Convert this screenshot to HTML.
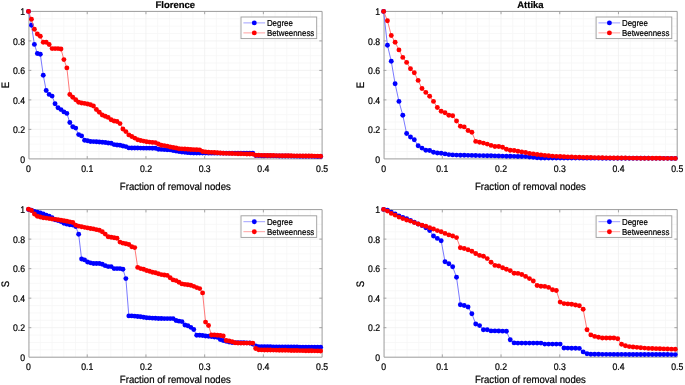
<!DOCTYPE html>
<html><head><meta charset="utf-8"><title>Florence / Attika</title>
<style>
html,body{margin:0;padding:0;background:#fff;}
body{width:685px;height:385px;overflow:hidden;}
svg{display:block;font-family:"Liberation Sans", sans-serif;}
text{text-rendering:geometricPrecision;filter:grayscale(1);fill:#000;stroke:#000;stroke-width:0.2px;}
</style></head>
<body>
<svg width="685" height="385" viewBox="0 0 685 385">
<rect width="685" height="385" fill="#fff"/>
<line x1="40.24" y1="11.4" x2="40.24" y2="158.9" stroke="#f6f6f6" stroke-width="0.8"/>
<line x1="51.99" y1="11.4" x2="51.99" y2="158.9" stroke="#f6f6f6" stroke-width="0.8"/>
<line x1="63.73" y1="11.4" x2="63.73" y2="158.9" stroke="#f6f6f6" stroke-width="0.8"/>
<line x1="75.48" y1="11.4" x2="75.48" y2="158.9" stroke="#f6f6f6" stroke-width="0.8"/>
<line x1="98.96" y1="11.4" x2="98.96" y2="158.9" stroke="#f6f6f6" stroke-width="0.8"/>
<line x1="110.71" y1="11.4" x2="110.71" y2="158.9" stroke="#f6f6f6" stroke-width="0.8"/>
<line x1="122.45" y1="11.4" x2="122.45" y2="158.9" stroke="#f6f6f6" stroke-width="0.8"/>
<line x1="134.2" y1="11.4" x2="134.2" y2="158.9" stroke="#f6f6f6" stroke-width="0.8"/>
<line x1="157.68" y1="11.4" x2="157.68" y2="158.9" stroke="#f6f6f6" stroke-width="0.8"/>
<line x1="169.43" y1="11.4" x2="169.43" y2="158.9" stroke="#f6f6f6" stroke-width="0.8"/>
<line x1="181.17" y1="11.4" x2="181.17" y2="158.9" stroke="#f6f6f6" stroke-width="0.8"/>
<line x1="192.92" y1="11.4" x2="192.92" y2="158.9" stroke="#f6f6f6" stroke-width="0.8"/>
<line x1="216.4" y1="11.4" x2="216.4" y2="158.9" stroke="#f6f6f6" stroke-width="0.8"/>
<line x1="228.15" y1="11.4" x2="228.15" y2="158.9" stroke="#f6f6f6" stroke-width="0.8"/>
<line x1="239.89" y1="11.4" x2="239.89" y2="158.9" stroke="#f6f6f6" stroke-width="0.8"/>
<line x1="251.64" y1="11.4" x2="251.64" y2="158.9" stroke="#f6f6f6" stroke-width="0.8"/>
<line x1="275.12" y1="11.4" x2="275.12" y2="158.9" stroke="#f6f6f6" stroke-width="0.8"/>
<line x1="286.87" y1="11.4" x2="286.87" y2="158.9" stroke="#f6f6f6" stroke-width="0.8"/>
<line x1="298.61" y1="11.4" x2="298.61" y2="158.9" stroke="#f6f6f6" stroke-width="0.8"/>
<line x1="310.36" y1="11.4" x2="310.36" y2="158.9" stroke="#f6f6f6" stroke-width="0.8"/>
<line x1="28.5" y1="151.53" x2="322.1" y2="151.53" stroke="#f6f6f6" stroke-width="0.8"/>
<line x1="28.5" y1="144.15" x2="322.1" y2="144.15" stroke="#f6f6f6" stroke-width="0.8"/>
<line x1="28.5" y1="136.78" x2="322.1" y2="136.78" stroke="#f6f6f6" stroke-width="0.8"/>
<line x1="28.5" y1="122.03" x2="322.1" y2="122.03" stroke="#f6f6f6" stroke-width="0.8"/>
<line x1="28.5" y1="114.65" x2="322.1" y2="114.65" stroke="#f6f6f6" stroke-width="0.8"/>
<line x1="28.5" y1="107.28" x2="322.1" y2="107.28" stroke="#f6f6f6" stroke-width="0.8"/>
<line x1="28.5" y1="92.53" x2="322.1" y2="92.53" stroke="#f6f6f6" stroke-width="0.8"/>
<line x1="28.5" y1="85.15" x2="322.1" y2="85.15" stroke="#f6f6f6" stroke-width="0.8"/>
<line x1="28.5" y1="77.78" x2="322.1" y2="77.78" stroke="#f6f6f6" stroke-width="0.8"/>
<line x1="28.5" y1="63.03" x2="322.1" y2="63.03" stroke="#f6f6f6" stroke-width="0.8"/>
<line x1="28.5" y1="55.65" x2="322.1" y2="55.65" stroke="#f6f6f6" stroke-width="0.8"/>
<line x1="28.5" y1="48.28" x2="322.1" y2="48.28" stroke="#f6f6f6" stroke-width="0.8"/>
<line x1="28.5" y1="33.52" x2="322.1" y2="33.52" stroke="#f6f6f6" stroke-width="0.8"/>
<line x1="28.5" y1="26.15" x2="322.1" y2="26.15" stroke="#f6f6f6" stroke-width="0.8"/>
<line x1="28.5" y1="18.78" x2="322.1" y2="18.78" stroke="#f6f6f6" stroke-width="0.8"/>
<line x1="87.22" y1="11.4" x2="87.22" y2="158.9" stroke="#f0f0f0" stroke-width="0.8"/>
<line x1="145.94" y1="11.4" x2="145.94" y2="158.9" stroke="#f0f0f0" stroke-width="0.8"/>
<line x1="204.66" y1="11.4" x2="204.66" y2="158.9" stroke="#f0f0f0" stroke-width="0.8"/>
<line x1="263.38" y1="11.4" x2="263.38" y2="158.9" stroke="#f0f0f0" stroke-width="0.8"/>
<line x1="28.5" y1="129.4" x2="322.1" y2="129.4" stroke="#f0f0f0" stroke-width="0.8"/>
<line x1="28.5" y1="99.9" x2="322.1" y2="99.9" stroke="#f0f0f0" stroke-width="0.8"/>
<line x1="28.5" y1="70.4" x2="322.1" y2="70.4" stroke="#f0f0f0" stroke-width="0.8"/>
<line x1="28.5" y1="40.9" x2="322.1" y2="40.9" stroke="#f0f0f0" stroke-width="0.8"/>
<path d="M28.95,11.4 H322.1 V158.9 H28.95 Z" fill="none" stroke="#9c9c9c" stroke-width="1"/>
<line x1="87.22" y1="11.4" x2="87.22" y2="14.2" stroke="#9c9c9c" stroke-width="0.9"/>
<line x1="87.22" y1="158.9" x2="87.22" y2="156.1" stroke="#9c9c9c" stroke-width="0.9"/>
<line x1="145.94" y1="11.4" x2="145.94" y2="14.2" stroke="#9c9c9c" stroke-width="0.9"/>
<line x1="145.94" y1="158.9" x2="145.94" y2="156.1" stroke="#9c9c9c" stroke-width="0.9"/>
<line x1="204.66" y1="11.4" x2="204.66" y2="14.2" stroke="#9c9c9c" stroke-width="0.9"/>
<line x1="204.66" y1="158.9" x2="204.66" y2="156.1" stroke="#9c9c9c" stroke-width="0.9"/>
<line x1="263.38" y1="11.4" x2="263.38" y2="14.2" stroke="#9c9c9c" stroke-width="0.9"/>
<line x1="263.38" y1="158.9" x2="263.38" y2="156.1" stroke="#9c9c9c" stroke-width="0.9"/>
<line x1="28.5" y1="129.4" x2="31.3" y2="129.4" stroke="#9c9c9c" stroke-width="0.9"/>
<line x1="322.1" y1="129.4" x2="319.3" y2="129.4" stroke="#9c9c9c" stroke-width="0.9"/>
<line x1="28.5" y1="99.9" x2="31.3" y2="99.9" stroke="#9c9c9c" stroke-width="0.9"/>
<line x1="322.1" y1="99.9" x2="319.3" y2="99.9" stroke="#9c9c9c" stroke-width="0.9"/>
<line x1="28.5" y1="70.4" x2="31.3" y2="70.4" stroke="#9c9c9c" stroke-width="0.9"/>
<line x1="322.1" y1="70.4" x2="319.3" y2="70.4" stroke="#9c9c9c" stroke-width="0.9"/>
<line x1="28.5" y1="40.9" x2="31.3" y2="40.9" stroke="#9c9c9c" stroke-width="0.9"/>
<line x1="322.1" y1="40.9" x2="319.3" y2="40.9" stroke="#9c9c9c" stroke-width="0.9"/>
<path d="M28.5,11.4 L31.45,25.3 L34.4,44.4 L37.35,53.5 L40.3,54.2 L43.25,75.2 L46.2,90.5 L49.16,94.4 L52.11,96.1 L55.06,103.8 L58.01,107.8 L60.96,109.6 L63.91,111.9 L66.86,113.4 L69.81,122.5 L72.76,126.8 L75.71,128.1 L78.66,134.6 L81.61,135.9 L84.56,140.2 L87.52,140.7 L90.47,141.5 L93.42,141.61 L96.37,141.74 L99.32,141.96 L102.27,142.24 L105.22,142.57 L108.17,142.99 L111.12,143.3 L114.07,144.6 L117.02,145.03 L119.97,145.3 L122.92,145.98 L125.87,146.6 L128.83,147.9 L131.78,147.96 L134.73,148.02 L137.68,148.07 L140.63,148.11 L143.58,148.13 L146.53,148.14 L149.48,148.16 L152.43,148.18 L155.38,148.2 L158.33,149.3 L161.28,149.42 L164.23,149.59 L167.19,149.75 L170.14,149.9 L173.09,150.47 L176.04,151 L178.99,151.49 L181.94,151.97 L184.89,152.3 L187.84,152.64 L190.79,152.9 L193.74,153.1 L196.69,153.11 L199.64,153.11 L202.59,153.12 L205.55,153.12 L208.5,153.13 L211.45,153.13 L214.4,153.14 L217.35,153.14 L220.3,153.15 L223.25,153.15 L226.2,153.16 L229.15,153.16 L232.1,153.17 L235.05,153.17 L238,153.18 L240.95,153.18 L243.91,153.19 L246.86,153.19 L249.81,153.2 L252.76,153.2 L255.71,155.62 L258.66,155.66 L261.61,155.69 L264.56,155.73 L267.51,155.77 L270.46,155.81 L273.41,155.85 L276.36,155.89 L279.31,155.93 L282.26,155.97 L285.22,156.01 L288.17,156.05 L291.12,156.09 L294.07,156.13 L297.02,156.17 L299.97,156.21 L302.92,156.25 L305.87,156.28 L308.82,156.32 L311.77,156.36 L314.72,156.4 L317.67,156.44 L320.62,156.48" fill="none" stroke="#6a6aff" stroke-width="0.9"/>
<g fill="#0000ff"><circle cx="28.5" cy="11.4" r="2.45"/><circle cx="31.45" cy="25.3" r="2.45"/><circle cx="34.4" cy="44.4" r="2.45"/><circle cx="37.35" cy="53.5" r="2.45"/><circle cx="40.3" cy="54.2" r="2.45"/><circle cx="43.25" cy="75.2" r="2.45"/><circle cx="46.2" cy="90.5" r="2.45"/><circle cx="49.16" cy="94.4" r="2.45"/><circle cx="52.11" cy="96.1" r="2.45"/><circle cx="55.06" cy="103.8" r="2.45"/><circle cx="58.01" cy="107.8" r="2.45"/><circle cx="60.96" cy="109.6" r="2.45"/><circle cx="63.91" cy="111.9" r="2.45"/><circle cx="66.86" cy="113.4" r="2.45"/><circle cx="69.81" cy="122.5" r="2.45"/><circle cx="72.76" cy="126.8" r="2.45"/><circle cx="75.71" cy="128.1" r="2.45"/><circle cx="78.66" cy="134.6" r="2.45"/><circle cx="81.61" cy="135.9" r="2.45"/><circle cx="84.56" cy="140.2" r="2.45"/><circle cx="87.52" cy="140.7" r="2.45"/><circle cx="90.47" cy="141.5" r="2.45"/><circle cx="93.42" cy="141.61" r="2.45"/><circle cx="96.37" cy="141.74" r="2.45"/><circle cx="99.32" cy="141.96" r="2.45"/><circle cx="102.27" cy="142.24" r="2.45"/><circle cx="105.22" cy="142.57" r="2.45"/><circle cx="108.17" cy="142.99" r="2.45"/><circle cx="111.12" cy="143.3" r="2.45"/><circle cx="114.07" cy="144.6" r="2.45"/><circle cx="117.02" cy="145.03" r="2.45"/><circle cx="119.97" cy="145.3" r="2.45"/><circle cx="122.92" cy="145.98" r="2.45"/><circle cx="125.87" cy="146.6" r="2.45"/><circle cx="128.83" cy="147.9" r="2.45"/><circle cx="131.78" cy="147.96" r="2.45"/><circle cx="134.73" cy="148.02" r="2.45"/><circle cx="137.68" cy="148.07" r="2.45"/><circle cx="140.63" cy="148.11" r="2.45"/><circle cx="143.58" cy="148.13" r="2.45"/><circle cx="146.53" cy="148.14" r="2.45"/><circle cx="149.48" cy="148.16" r="2.45"/><circle cx="152.43" cy="148.18" r="2.45"/><circle cx="155.38" cy="148.2" r="2.45"/><circle cx="158.33" cy="149.3" r="2.45"/><circle cx="161.28" cy="149.42" r="2.45"/><circle cx="164.23" cy="149.59" r="2.45"/><circle cx="167.19" cy="149.75" r="2.45"/><circle cx="170.14" cy="149.9" r="2.45"/><circle cx="173.09" cy="150.47" r="2.45"/><circle cx="176.04" cy="151" r="2.45"/><circle cx="178.99" cy="151.49" r="2.45"/><circle cx="181.94" cy="151.97" r="2.45"/><circle cx="184.89" cy="152.3" r="2.45"/><circle cx="187.84" cy="152.64" r="2.45"/><circle cx="190.79" cy="152.9" r="2.45"/><circle cx="193.74" cy="153.1" r="2.45"/><circle cx="196.69" cy="153.11" r="2.45"/><circle cx="199.64" cy="153.11" r="2.45"/><circle cx="202.59" cy="153.12" r="2.45"/><circle cx="205.55" cy="153.12" r="2.45"/><circle cx="208.5" cy="153.13" r="2.45"/><circle cx="211.45" cy="153.13" r="2.45"/><circle cx="214.4" cy="153.14" r="2.45"/><circle cx="217.35" cy="153.14" r="2.45"/><circle cx="220.3" cy="153.15" r="2.45"/><circle cx="223.25" cy="153.15" r="2.45"/><circle cx="226.2" cy="153.16" r="2.45"/><circle cx="229.15" cy="153.16" r="2.45"/><circle cx="232.1" cy="153.17" r="2.45"/><circle cx="235.05" cy="153.17" r="2.45"/><circle cx="238" cy="153.18" r="2.45"/><circle cx="240.95" cy="153.18" r="2.45"/><circle cx="243.91" cy="153.19" r="2.45"/><circle cx="246.86" cy="153.19" r="2.45"/><circle cx="249.81" cy="153.2" r="2.45"/><circle cx="252.76" cy="153.2" r="2.45"/><circle cx="255.71" cy="155.62" r="2.45"/><circle cx="258.66" cy="155.66" r="2.45"/><circle cx="261.61" cy="155.69" r="2.45"/><circle cx="264.56" cy="155.73" r="2.45"/><circle cx="267.51" cy="155.77" r="2.45"/><circle cx="270.46" cy="155.81" r="2.45"/><circle cx="273.41" cy="155.85" r="2.45"/><circle cx="276.36" cy="155.89" r="2.45"/><circle cx="279.31" cy="155.93" r="2.45"/><circle cx="282.26" cy="155.97" r="2.45"/><circle cx="285.22" cy="156.01" r="2.45"/><circle cx="288.17" cy="156.05" r="2.45"/><circle cx="291.12" cy="156.09" r="2.45"/><circle cx="294.07" cy="156.13" r="2.45"/><circle cx="297.02" cy="156.17" r="2.45"/><circle cx="299.97" cy="156.21" r="2.45"/><circle cx="302.92" cy="156.25" r="2.45"/><circle cx="305.87" cy="156.28" r="2.45"/><circle cx="308.82" cy="156.32" r="2.45"/><circle cx="311.77" cy="156.36" r="2.45"/><circle cx="314.72" cy="156.4" r="2.45"/><circle cx="317.67" cy="156.44" r="2.45"/><circle cx="320.62" cy="156.48" r="2.45"/></g>
<path d="M28.5,11.4 L31.45,19.2 L34.4,29.3 L37.35,34 L40.3,36.3 L43.25,42.3 L46.2,42.3 L49.16,44.5 L52.11,48.6 L55.06,48.6 L58.01,48.6 L60.96,49 L63.91,59.6 L66.86,67.9 L69.81,94.5 L72.76,97.3 L75.71,99.8 L78.66,102.3 L81.61,103 L84.56,103.4 L87.52,104 L90.47,104.7 L93.42,106 L96.37,109.5 L99.32,112.3 L102.27,115 L105.22,116.3 L108.17,117.4 L111.12,119.7 L114.07,120.94 L117.02,121.5 L119.97,123.6 L122.92,129 L125.87,131.6 L128.83,134.9 L131.78,136.44 L134.73,138.1 L137.68,139.8 L140.63,140.53 L143.58,141.1 L146.53,141.74 L149.48,142.11 L152.43,142.4 L155.38,142.6 L158.33,144 L161.28,145.2 L164.23,145.59 L167.19,146.16 L170.14,147 L173.09,147.52 L176.04,148.03 L178.99,148.7 L181.94,148.84 L184.89,149.05 L187.84,149.26 L190.79,149.48 L193.74,149.66 L196.69,149.81 L199.64,149.9 L202.59,151.5 L205.55,151.86 L208.5,152.2 L211.45,152.37 L214.4,152.57 L217.35,152.77 L220.3,152.98 L223.25,153.18 L226.2,153.33 L229.15,153.42 L232.1,153.51 L235.05,153.59 L238,153.68 L240.95,153.76 L243.91,153.85 L246.86,153.93 L249.81,154.02 L252.76,154.1 L255.71,155.22 L258.66,155.28 L261.61,155.34 L264.56,155.4 L267.51,155.45 L270.46,155.51 L273.41,155.57 L276.36,155.62 L279.31,155.66 L282.26,155.69 L285.22,155.73 L288.17,155.77 L291.12,155.81 L294.07,155.84 L297.02,155.88 L299.97,155.92 L302.92,155.96 L305.87,155.99 L308.82,156.03 L311.77,156.07 L314.72,156.11 L317.67,156.14 L320.62,156.18" fill="none" stroke="#ff6a6a" stroke-width="0.9"/>
<g fill="#ff0000"><circle cx="28.5" cy="11.4" r="2.45"/><circle cx="31.45" cy="19.2" r="2.45"/><circle cx="34.4" cy="29.3" r="2.45"/><circle cx="37.35" cy="34" r="2.45"/><circle cx="40.3" cy="36.3" r="2.45"/><circle cx="43.25" cy="42.3" r="2.45"/><circle cx="46.2" cy="42.3" r="2.45"/><circle cx="49.16" cy="44.5" r="2.45"/><circle cx="52.11" cy="48.6" r="2.45"/><circle cx="55.06" cy="48.6" r="2.45"/><circle cx="58.01" cy="48.6" r="2.45"/><circle cx="60.96" cy="49" r="2.45"/><circle cx="63.91" cy="59.6" r="2.45"/><circle cx="66.86" cy="67.9" r="2.45"/><circle cx="69.81" cy="94.5" r="2.45"/><circle cx="72.76" cy="97.3" r="2.45"/><circle cx="75.71" cy="99.8" r="2.45"/><circle cx="78.66" cy="102.3" r="2.45"/><circle cx="81.61" cy="103" r="2.45"/><circle cx="84.56" cy="103.4" r="2.45"/><circle cx="87.52" cy="104" r="2.45"/><circle cx="90.47" cy="104.7" r="2.45"/><circle cx="93.42" cy="106" r="2.45"/><circle cx="96.37" cy="109.5" r="2.45"/><circle cx="99.32" cy="112.3" r="2.45"/><circle cx="102.27" cy="115" r="2.45"/><circle cx="105.22" cy="116.3" r="2.45"/><circle cx="108.17" cy="117.4" r="2.45"/><circle cx="111.12" cy="119.7" r="2.45"/><circle cx="114.07" cy="120.94" r="2.45"/><circle cx="117.02" cy="121.5" r="2.45"/><circle cx="119.97" cy="123.6" r="2.45"/><circle cx="122.92" cy="129" r="2.45"/><circle cx="125.87" cy="131.6" r="2.45"/><circle cx="128.83" cy="134.9" r="2.45"/><circle cx="131.78" cy="136.44" r="2.45"/><circle cx="134.73" cy="138.1" r="2.45"/><circle cx="137.68" cy="139.8" r="2.45"/><circle cx="140.63" cy="140.53" r="2.45"/><circle cx="143.58" cy="141.1" r="2.45"/><circle cx="146.53" cy="141.74" r="2.45"/><circle cx="149.48" cy="142.11" r="2.45"/><circle cx="152.43" cy="142.4" r="2.45"/><circle cx="155.38" cy="142.6" r="2.45"/><circle cx="158.33" cy="144" r="2.45"/><circle cx="161.28" cy="145.2" r="2.45"/><circle cx="164.23" cy="145.59" r="2.45"/><circle cx="167.19" cy="146.16" r="2.45"/><circle cx="170.14" cy="147" r="2.45"/><circle cx="173.09" cy="147.52" r="2.45"/><circle cx="176.04" cy="148.03" r="2.45"/><circle cx="178.99" cy="148.7" r="2.45"/><circle cx="181.94" cy="148.84" r="2.45"/><circle cx="184.89" cy="149.05" r="2.45"/><circle cx="187.84" cy="149.26" r="2.45"/><circle cx="190.79" cy="149.48" r="2.45"/><circle cx="193.74" cy="149.66" r="2.45"/><circle cx="196.69" cy="149.81" r="2.45"/><circle cx="199.64" cy="149.9" r="2.45"/><circle cx="202.59" cy="151.5" r="2.45"/><circle cx="205.55" cy="151.86" r="2.45"/><circle cx="208.5" cy="152.2" r="2.45"/><circle cx="211.45" cy="152.37" r="2.45"/><circle cx="214.4" cy="152.57" r="2.45"/><circle cx="217.35" cy="152.77" r="2.45"/><circle cx="220.3" cy="152.98" r="2.45"/><circle cx="223.25" cy="153.18" r="2.45"/><circle cx="226.2" cy="153.33" r="2.45"/><circle cx="229.15" cy="153.42" r="2.45"/><circle cx="232.1" cy="153.51" r="2.45"/><circle cx="235.05" cy="153.59" r="2.45"/><circle cx="238" cy="153.68" r="2.45"/><circle cx="240.95" cy="153.76" r="2.45"/><circle cx="243.91" cy="153.85" r="2.45"/><circle cx="246.86" cy="153.93" r="2.45"/><circle cx="249.81" cy="154.02" r="2.45"/><circle cx="252.76" cy="154.1" r="2.45"/><circle cx="255.71" cy="155.22" r="2.45"/><circle cx="258.66" cy="155.28" r="2.45"/><circle cx="261.61" cy="155.34" r="2.45"/><circle cx="264.56" cy="155.4" r="2.45"/><circle cx="267.51" cy="155.45" r="2.45"/><circle cx="270.46" cy="155.51" r="2.45"/><circle cx="273.41" cy="155.57" r="2.45"/><circle cx="276.36" cy="155.62" r="2.45"/><circle cx="279.31" cy="155.66" r="2.45"/><circle cx="282.26" cy="155.69" r="2.45"/><circle cx="285.22" cy="155.73" r="2.45"/><circle cx="288.17" cy="155.77" r="2.45"/><circle cx="291.12" cy="155.81" r="2.45"/><circle cx="294.07" cy="155.84" r="2.45"/><circle cx="297.02" cy="155.88" r="2.45"/><circle cx="299.97" cy="155.92" r="2.45"/><circle cx="302.92" cy="155.96" r="2.45"/><circle cx="305.87" cy="155.99" r="2.45"/><circle cx="308.82" cy="156.03" r="2.45"/><circle cx="311.77" cy="156.07" r="2.45"/><circle cx="314.72" cy="156.11" r="2.45"/><circle cx="317.67" cy="156.14" r="2.45"/><circle cx="320.62" cy="156.18" r="2.45"/></g>
<text transform="translate(28.5,171.8) scale(1,1.11)" text-anchor="middle" font-size="8.7">0</text>
<text transform="translate(87.22,171.8) scale(1,1.11)" text-anchor="middle" font-size="8.7">0.1</text>
<text transform="translate(145.94,171.8) scale(1,1.11)" text-anchor="middle" font-size="8.7">0.2</text>
<text transform="translate(204.66,171.8) scale(1,1.11)" text-anchor="middle" font-size="8.7">0.3</text>
<text transform="translate(263.38,171.8) scale(1,1.11)" text-anchor="middle" font-size="8.7">0.4</text>
<text transform="translate(322.1,171.8) scale(1,1.11)" text-anchor="middle" font-size="8.7">0.5</text>
<text transform="translate(25.1,162.5) scale(1,1.11)" text-anchor="end" font-size="8.7">0</text>
<text transform="translate(25.1,133) scale(1,1.11)" text-anchor="end" font-size="8.7">0.2</text>
<text transform="translate(25.1,103.5) scale(1,1.11)" text-anchor="end" font-size="8.7">0.4</text>
<text transform="translate(25.1,74) scale(1,1.11)" text-anchor="end" font-size="8.7">0.6</text>
<text transform="translate(25.1,44.5) scale(1,1.11)" text-anchor="end" font-size="8.7">0.8</text>
<text transform="translate(25.1,15) scale(1,1.11)" text-anchor="end" font-size="8.7">1</text>
<text transform="translate(175.3,190.2) scale(1,1.09)" text-anchor="middle" font-size="9.6">Fraction of removal nodes</text>
<text transform="translate(8.8,85.15) rotate(-90) scale(1,1.14)" text-anchor="middle" font-size="9.5">E</text>
<text transform="translate(175.3,8.3)" text-anchor="middle" font-size="9.5" font-weight="bold">Florence</text>
<rect x="241" y="17" width="75.7" height="21.6" fill="#fff" stroke="#9c9c9c" stroke-width="0.9"/>
<line x1="243.4" y1="22.9" x2="265.1" y2="22.9" stroke="#6a6aff" stroke-width="0.9" opacity="0.7"/>
<circle cx="254.3" cy="22.9" r="2.45" fill="#0000ff"/>
<text transform="translate(266.9,25.8) scale(1,1.1)" font-size="7.9">Degree</text>
<line x1="243.4" y1="32.9" x2="265.1" y2="32.9" stroke="#ff6a6a" stroke-width="0.9" opacity="0.7"/>
<circle cx="254.3" cy="32.9" r="2.45" fill="#ff0000"/>
<text transform="translate(266.9,35.8) scale(1,1.1)" font-size="7.9">Betweenness</text>
<line x1="395.34" y1="11.4" x2="395.34" y2="158.9" stroke="#f6f6f6" stroke-width="0.8"/>
<line x1="407.09" y1="11.4" x2="407.09" y2="158.9" stroke="#f6f6f6" stroke-width="0.8"/>
<line x1="418.83" y1="11.4" x2="418.83" y2="158.9" stroke="#f6f6f6" stroke-width="0.8"/>
<line x1="430.58" y1="11.4" x2="430.58" y2="158.9" stroke="#f6f6f6" stroke-width="0.8"/>
<line x1="454.06" y1="11.4" x2="454.06" y2="158.9" stroke="#f6f6f6" stroke-width="0.8"/>
<line x1="465.81" y1="11.4" x2="465.81" y2="158.9" stroke="#f6f6f6" stroke-width="0.8"/>
<line x1="477.55" y1="11.4" x2="477.55" y2="158.9" stroke="#f6f6f6" stroke-width="0.8"/>
<line x1="489.3" y1="11.4" x2="489.3" y2="158.9" stroke="#f6f6f6" stroke-width="0.8"/>
<line x1="512.78" y1="11.4" x2="512.78" y2="158.9" stroke="#f6f6f6" stroke-width="0.8"/>
<line x1="524.53" y1="11.4" x2="524.53" y2="158.9" stroke="#f6f6f6" stroke-width="0.8"/>
<line x1="536.27" y1="11.4" x2="536.27" y2="158.9" stroke="#f6f6f6" stroke-width="0.8"/>
<line x1="548.02" y1="11.4" x2="548.02" y2="158.9" stroke="#f6f6f6" stroke-width="0.8"/>
<line x1="571.5" y1="11.4" x2="571.5" y2="158.9" stroke="#f6f6f6" stroke-width="0.8"/>
<line x1="583.25" y1="11.4" x2="583.25" y2="158.9" stroke="#f6f6f6" stroke-width="0.8"/>
<line x1="594.99" y1="11.4" x2="594.99" y2="158.9" stroke="#f6f6f6" stroke-width="0.8"/>
<line x1="606.74" y1="11.4" x2="606.74" y2="158.9" stroke="#f6f6f6" stroke-width="0.8"/>
<line x1="630.22" y1="11.4" x2="630.22" y2="158.9" stroke="#f6f6f6" stroke-width="0.8"/>
<line x1="641.97" y1="11.4" x2="641.97" y2="158.9" stroke="#f6f6f6" stroke-width="0.8"/>
<line x1="653.71" y1="11.4" x2="653.71" y2="158.9" stroke="#f6f6f6" stroke-width="0.8"/>
<line x1="665.46" y1="11.4" x2="665.46" y2="158.9" stroke="#f6f6f6" stroke-width="0.8"/>
<line x1="383.6" y1="151.53" x2="677.2" y2="151.53" stroke="#f6f6f6" stroke-width="0.8"/>
<line x1="383.6" y1="144.15" x2="677.2" y2="144.15" stroke="#f6f6f6" stroke-width="0.8"/>
<line x1="383.6" y1="136.78" x2="677.2" y2="136.78" stroke="#f6f6f6" stroke-width="0.8"/>
<line x1="383.6" y1="122.03" x2="677.2" y2="122.03" stroke="#f6f6f6" stroke-width="0.8"/>
<line x1="383.6" y1="114.65" x2="677.2" y2="114.65" stroke="#f6f6f6" stroke-width="0.8"/>
<line x1="383.6" y1="107.28" x2="677.2" y2="107.28" stroke="#f6f6f6" stroke-width="0.8"/>
<line x1="383.6" y1="92.53" x2="677.2" y2="92.53" stroke="#f6f6f6" stroke-width="0.8"/>
<line x1="383.6" y1="85.15" x2="677.2" y2="85.15" stroke="#f6f6f6" stroke-width="0.8"/>
<line x1="383.6" y1="77.78" x2="677.2" y2="77.78" stroke="#f6f6f6" stroke-width="0.8"/>
<line x1="383.6" y1="63.03" x2="677.2" y2="63.03" stroke="#f6f6f6" stroke-width="0.8"/>
<line x1="383.6" y1="55.65" x2="677.2" y2="55.65" stroke="#f6f6f6" stroke-width="0.8"/>
<line x1="383.6" y1="48.28" x2="677.2" y2="48.28" stroke="#f6f6f6" stroke-width="0.8"/>
<line x1="383.6" y1="33.52" x2="677.2" y2="33.52" stroke="#f6f6f6" stroke-width="0.8"/>
<line x1="383.6" y1="26.15" x2="677.2" y2="26.15" stroke="#f6f6f6" stroke-width="0.8"/>
<line x1="383.6" y1="18.78" x2="677.2" y2="18.78" stroke="#f6f6f6" stroke-width="0.8"/>
<line x1="442.32" y1="11.4" x2="442.32" y2="158.9" stroke="#f0f0f0" stroke-width="0.8"/>
<line x1="501.04" y1="11.4" x2="501.04" y2="158.9" stroke="#f0f0f0" stroke-width="0.8"/>
<line x1="559.76" y1="11.4" x2="559.76" y2="158.9" stroke="#f0f0f0" stroke-width="0.8"/>
<line x1="618.48" y1="11.4" x2="618.48" y2="158.9" stroke="#f0f0f0" stroke-width="0.8"/>
<line x1="383.6" y1="129.4" x2="677.2" y2="129.4" stroke="#f0f0f0" stroke-width="0.8"/>
<line x1="383.6" y1="99.9" x2="677.2" y2="99.9" stroke="#f0f0f0" stroke-width="0.8"/>
<line x1="383.6" y1="70.4" x2="677.2" y2="70.4" stroke="#f0f0f0" stroke-width="0.8"/>
<line x1="383.6" y1="40.9" x2="677.2" y2="40.9" stroke="#f0f0f0" stroke-width="0.8"/>
<path d="M384.05,11.4 H677.2 V158.9 H384.05 Z" fill="none" stroke="#9c9c9c" stroke-width="1"/>
<line x1="442.32" y1="11.4" x2="442.32" y2="14.2" stroke="#9c9c9c" stroke-width="0.9"/>
<line x1="442.32" y1="158.9" x2="442.32" y2="156.1" stroke="#9c9c9c" stroke-width="0.9"/>
<line x1="501.04" y1="11.4" x2="501.04" y2="14.2" stroke="#9c9c9c" stroke-width="0.9"/>
<line x1="501.04" y1="158.9" x2="501.04" y2="156.1" stroke="#9c9c9c" stroke-width="0.9"/>
<line x1="559.76" y1="11.4" x2="559.76" y2="14.2" stroke="#9c9c9c" stroke-width="0.9"/>
<line x1="559.76" y1="158.9" x2="559.76" y2="156.1" stroke="#9c9c9c" stroke-width="0.9"/>
<line x1="618.48" y1="11.4" x2="618.48" y2="14.2" stroke="#9c9c9c" stroke-width="0.9"/>
<line x1="618.48" y1="158.9" x2="618.48" y2="156.1" stroke="#9c9c9c" stroke-width="0.9"/>
<line x1="383.6" y1="129.4" x2="386.4" y2="129.4" stroke="#9c9c9c" stroke-width="0.9"/>
<line x1="677.2" y1="129.4" x2="674.4" y2="129.4" stroke="#9c9c9c" stroke-width="0.9"/>
<line x1="383.6" y1="99.9" x2="386.4" y2="99.9" stroke="#9c9c9c" stroke-width="0.9"/>
<line x1="677.2" y1="99.9" x2="674.4" y2="99.9" stroke="#9c9c9c" stroke-width="0.9"/>
<line x1="383.6" y1="70.4" x2="386.4" y2="70.4" stroke="#9c9c9c" stroke-width="0.9"/>
<line x1="677.2" y1="70.4" x2="674.4" y2="70.4" stroke="#9c9c9c" stroke-width="0.9"/>
<line x1="383.6" y1="40.9" x2="386.4" y2="40.9" stroke="#9c9c9c" stroke-width="0.9"/>
<line x1="677.2" y1="40.9" x2="674.4" y2="40.9" stroke="#9c9c9c" stroke-width="0.9"/>
<path d="M383.6,11.4 L387.44,45.2 L391.28,61.3 L395.11,83.8 L398.95,101.4 L402.79,115.2 L406.63,133.5 L410.47,137 L414.3,139.7 L418.14,145.8 L421.98,148.1 L425.82,150.3 L429.65,150.5 L433.49,152.2 L437.33,153 L441.17,153.2 L445.01,153.9 L448.84,154.6 L452.68,154.9 L456.52,155.1 L460.36,155.18 L464.2,155.26 L468.03,155.34 L471.87,155.42 L475.71,155.5 L479.55,155.58 L483.39,155.66 L487.22,155.74 L491.06,155.8 L494.9,155.91 L498.74,156 L502.58,156.09 L506.41,156.18 L510.25,156.26 L514.09,156.35 L517.93,156.44 L521.76,156.53 L525.6,156.6 L529.44,157.01 L533.28,157.37 L537.12,157.73 L540.95,158 L544.79,158.01 L548.63,158.03 L552.47,158.04 L556.31,158.05 L560.14,158.06 L563.98,158.07 L567.82,158.08 L571.66,158.09 L575.5,158.1 L579.33,158.11 L583.17,158.13 L587.01,158.14 L590.85,158.15 L594.68,158.16 L598.52,158.17 L602.36,158.18 L606.2,158.19 L610.04,158.2 L613.87,158.22 L617.71,158.23 L621.55,158.24 L625.39,158.25 L629.23,158.26 L633.06,158.27 L636.9,158.28 L640.74,158.29 L644.58,158.31 L648.42,158.32 L652.25,158.33 L656.09,158.34 L659.93,158.35 L663.77,158.36 L667.61,158.37 L671.44,158.38 L675.28,158.39" fill="none" stroke="#6a6aff" stroke-width="0.9"/>
<g fill="#0000ff"><circle cx="383.6" cy="11.4" r="2.45"/><circle cx="387.44" cy="45.2" r="2.45"/><circle cx="391.28" cy="61.3" r="2.45"/><circle cx="395.11" cy="83.8" r="2.45"/><circle cx="398.95" cy="101.4" r="2.45"/><circle cx="402.79" cy="115.2" r="2.45"/><circle cx="406.63" cy="133.5" r="2.45"/><circle cx="410.47" cy="137" r="2.45"/><circle cx="414.3" cy="139.7" r="2.45"/><circle cx="418.14" cy="145.8" r="2.45"/><circle cx="421.98" cy="148.1" r="2.45"/><circle cx="425.82" cy="150.3" r="2.45"/><circle cx="429.65" cy="150.5" r="2.45"/><circle cx="433.49" cy="152.2" r="2.45"/><circle cx="437.33" cy="153" r="2.45"/><circle cx="441.17" cy="153.2" r="2.45"/><circle cx="445.01" cy="153.9" r="2.45"/><circle cx="448.84" cy="154.6" r="2.45"/><circle cx="452.68" cy="154.9" r="2.45"/><circle cx="456.52" cy="155.1" r="2.45"/><circle cx="460.36" cy="155.18" r="2.45"/><circle cx="464.2" cy="155.26" r="2.45"/><circle cx="468.03" cy="155.34" r="2.45"/><circle cx="471.87" cy="155.42" r="2.45"/><circle cx="475.71" cy="155.5" r="2.45"/><circle cx="479.55" cy="155.58" r="2.45"/><circle cx="483.39" cy="155.66" r="2.45"/><circle cx="487.22" cy="155.74" r="2.45"/><circle cx="491.06" cy="155.8" r="2.45"/><circle cx="494.9" cy="155.91" r="2.45"/><circle cx="498.74" cy="156" r="2.45"/><circle cx="502.58" cy="156.09" r="2.45"/><circle cx="506.41" cy="156.18" r="2.45"/><circle cx="510.25" cy="156.26" r="2.45"/><circle cx="514.09" cy="156.35" r="2.45"/><circle cx="517.93" cy="156.44" r="2.45"/><circle cx="521.76" cy="156.53" r="2.45"/><circle cx="525.6" cy="156.6" r="2.45"/><circle cx="529.44" cy="157.01" r="2.45"/><circle cx="533.28" cy="157.37" r="2.45"/><circle cx="537.12" cy="157.73" r="2.45"/><circle cx="540.95" cy="158" r="2.45"/><circle cx="544.79" cy="158.01" r="2.45"/><circle cx="548.63" cy="158.03" r="2.45"/><circle cx="552.47" cy="158.04" r="2.45"/><circle cx="556.31" cy="158.05" r="2.45"/><circle cx="560.14" cy="158.06" r="2.45"/><circle cx="563.98" cy="158.07" r="2.45"/><circle cx="567.82" cy="158.08" r="2.45"/><circle cx="571.66" cy="158.09" r="2.45"/><circle cx="575.5" cy="158.1" r="2.45"/><circle cx="579.33" cy="158.11" r="2.45"/><circle cx="583.17" cy="158.13" r="2.45"/><circle cx="587.01" cy="158.14" r="2.45"/><circle cx="590.85" cy="158.15" r="2.45"/><circle cx="594.68" cy="158.16" r="2.45"/><circle cx="598.52" cy="158.17" r="2.45"/><circle cx="602.36" cy="158.18" r="2.45"/><circle cx="606.2" cy="158.19" r="2.45"/><circle cx="610.04" cy="158.2" r="2.45"/><circle cx="613.87" cy="158.22" r="2.45"/><circle cx="617.71" cy="158.23" r="2.45"/><circle cx="621.55" cy="158.24" r="2.45"/><circle cx="625.39" cy="158.25" r="2.45"/><circle cx="629.23" cy="158.26" r="2.45"/><circle cx="633.06" cy="158.27" r="2.45"/><circle cx="636.9" cy="158.28" r="2.45"/><circle cx="640.74" cy="158.29" r="2.45"/><circle cx="644.58" cy="158.31" r="2.45"/><circle cx="648.42" cy="158.32" r="2.45"/><circle cx="652.25" cy="158.33" r="2.45"/><circle cx="656.09" cy="158.34" r="2.45"/><circle cx="659.93" cy="158.35" r="2.45"/><circle cx="663.77" cy="158.36" r="2.45"/><circle cx="667.61" cy="158.37" r="2.45"/><circle cx="671.44" cy="158.38" r="2.45"/><circle cx="675.28" cy="158.39" r="2.45"/></g>
<path d="M383.6,11.4 L387.44,20.7 L391.28,35.5 L395.11,42.2 L398.95,49.9 L402.79,57.4 L406.63,62.4 L410.47,68.7 L414.3,72.8 L418.14,80.4 L421.98,88.5 L425.82,92.4 L429.65,96.2 L433.49,101.4 L437.33,107.5 L441.17,111.2 L445.01,112.7 L448.84,115.2 L452.68,115.7 L456.52,121 L460.36,126.2 L464.2,126.9 L468.03,130.5 L471.87,132.3 L475.71,141.4 L479.55,142.2 L483.39,143.1 L487.22,144.1 L491.06,145.4 L494.9,146.5 L498.74,146.5 L502.58,147.2 L506.41,149.2 L510.25,150.3 L514.09,150.5 L517.93,151.2 L521.76,151.9 L525.6,152.52 L529.44,153.4 L533.28,153.91 L537.12,154.49 L540.95,154.9 L544.79,155.38 L548.63,155.75 L552.47,156.1 L556.31,156.33 L560.14,156.55 L563.98,156.8 L567.82,156.9 L571.66,157.03 L575.5,157.2 L579.33,157.26 L583.17,157.35 L587.01,157.44 L590.85,157.5 L594.68,157.65 L598.52,157.8 L602.36,157.82 L606.2,157.86 L610.04,157.9 L613.87,157.94 L617.71,157.98 L621.55,158.02 L625.39,158.05 L629.23,158.09 L633.06,158.13 L636.9,158.17 L640.74,158.2 L644.58,158.22 L648.42,158.25 L652.25,158.27 L656.09,158.29 L659.93,158.31 L663.77,158.33 L667.61,158.35 L671.44,158.37 L675.28,158.39" fill="none" stroke="#ff6a6a" stroke-width="0.9"/>
<g fill="#ff0000"><circle cx="383.6" cy="11.4" r="2.45"/><circle cx="387.44" cy="20.7" r="2.45"/><circle cx="391.28" cy="35.5" r="2.45"/><circle cx="395.11" cy="42.2" r="2.45"/><circle cx="398.95" cy="49.9" r="2.45"/><circle cx="402.79" cy="57.4" r="2.45"/><circle cx="406.63" cy="62.4" r="2.45"/><circle cx="410.47" cy="68.7" r="2.45"/><circle cx="414.3" cy="72.8" r="2.45"/><circle cx="418.14" cy="80.4" r="2.45"/><circle cx="421.98" cy="88.5" r="2.45"/><circle cx="425.82" cy="92.4" r="2.45"/><circle cx="429.65" cy="96.2" r="2.45"/><circle cx="433.49" cy="101.4" r="2.45"/><circle cx="437.33" cy="107.5" r="2.45"/><circle cx="441.17" cy="111.2" r="2.45"/><circle cx="445.01" cy="112.7" r="2.45"/><circle cx="448.84" cy="115.2" r="2.45"/><circle cx="452.68" cy="115.7" r="2.45"/><circle cx="456.52" cy="121" r="2.45"/><circle cx="460.36" cy="126.2" r="2.45"/><circle cx="464.2" cy="126.9" r="2.45"/><circle cx="468.03" cy="130.5" r="2.45"/><circle cx="471.87" cy="132.3" r="2.45"/><circle cx="475.71" cy="141.4" r="2.45"/><circle cx="479.55" cy="142.2" r="2.45"/><circle cx="483.39" cy="143.1" r="2.45"/><circle cx="487.22" cy="144.1" r="2.45"/><circle cx="491.06" cy="145.4" r="2.45"/><circle cx="494.9" cy="146.5" r="2.45"/><circle cx="498.74" cy="146.5" r="2.45"/><circle cx="502.58" cy="147.2" r="2.45"/><circle cx="506.41" cy="149.2" r="2.45"/><circle cx="510.25" cy="150.3" r="2.45"/><circle cx="514.09" cy="150.5" r="2.45"/><circle cx="517.93" cy="151.2" r="2.45"/><circle cx="521.76" cy="151.9" r="2.45"/><circle cx="525.6" cy="152.52" r="2.45"/><circle cx="529.44" cy="153.4" r="2.45"/><circle cx="533.28" cy="153.91" r="2.45"/><circle cx="537.12" cy="154.49" r="2.45"/><circle cx="540.95" cy="154.9" r="2.45"/><circle cx="544.79" cy="155.38" r="2.45"/><circle cx="548.63" cy="155.75" r="2.45"/><circle cx="552.47" cy="156.1" r="2.45"/><circle cx="556.31" cy="156.33" r="2.45"/><circle cx="560.14" cy="156.55" r="2.45"/><circle cx="563.98" cy="156.8" r="2.45"/><circle cx="567.82" cy="156.9" r="2.45"/><circle cx="571.66" cy="157.03" r="2.45"/><circle cx="575.5" cy="157.2" r="2.45"/><circle cx="579.33" cy="157.26" r="2.45"/><circle cx="583.17" cy="157.35" r="2.45"/><circle cx="587.01" cy="157.44" r="2.45"/><circle cx="590.85" cy="157.5" r="2.45"/><circle cx="594.68" cy="157.65" r="2.45"/><circle cx="598.52" cy="157.8" r="2.45"/><circle cx="602.36" cy="157.82" r="2.45"/><circle cx="606.2" cy="157.86" r="2.45"/><circle cx="610.04" cy="157.9" r="2.45"/><circle cx="613.87" cy="157.94" r="2.45"/><circle cx="617.71" cy="157.98" r="2.45"/><circle cx="621.55" cy="158.02" r="2.45"/><circle cx="625.39" cy="158.05" r="2.45"/><circle cx="629.23" cy="158.09" r="2.45"/><circle cx="633.06" cy="158.13" r="2.45"/><circle cx="636.9" cy="158.17" r="2.45"/><circle cx="640.74" cy="158.2" r="2.45"/><circle cx="644.58" cy="158.22" r="2.45"/><circle cx="648.42" cy="158.25" r="2.45"/><circle cx="652.25" cy="158.27" r="2.45"/><circle cx="656.09" cy="158.29" r="2.45"/><circle cx="659.93" cy="158.31" r="2.45"/><circle cx="663.77" cy="158.33" r="2.45"/><circle cx="667.61" cy="158.35" r="2.45"/><circle cx="671.44" cy="158.37" r="2.45"/><circle cx="675.28" cy="158.39" r="2.45"/></g>
<text transform="translate(383.6,171.8) scale(1,1.11)" text-anchor="middle" font-size="8.7">0</text>
<text transform="translate(442.32,171.8) scale(1,1.11)" text-anchor="middle" font-size="8.7">0.1</text>
<text transform="translate(501.04,171.8) scale(1,1.11)" text-anchor="middle" font-size="8.7">0.2</text>
<text transform="translate(559.76,171.8) scale(1,1.11)" text-anchor="middle" font-size="8.7">0.3</text>
<text transform="translate(618.48,171.8) scale(1,1.11)" text-anchor="middle" font-size="8.7">0.4</text>
<text transform="translate(677.2,171.8) scale(1,1.11)" text-anchor="middle" font-size="8.7">0.5</text>
<text transform="translate(380.2,162.5) scale(1,1.11)" text-anchor="end" font-size="8.7">0</text>
<text transform="translate(380.2,133) scale(1,1.11)" text-anchor="end" font-size="8.7">0.2</text>
<text transform="translate(380.2,103.5) scale(1,1.11)" text-anchor="end" font-size="8.7">0.4</text>
<text transform="translate(380.2,74) scale(1,1.11)" text-anchor="end" font-size="8.7">0.6</text>
<text transform="translate(380.2,44.5) scale(1,1.11)" text-anchor="end" font-size="8.7">0.8</text>
<text transform="translate(380.2,15) scale(1,1.11)" text-anchor="end" font-size="8.7">1</text>
<text transform="translate(530.4,190.2) scale(1,1.09)" text-anchor="middle" font-size="9.6">Fraction of removal nodes</text>
<text transform="translate(363.9,85.15) rotate(-90) scale(1,1.14)" text-anchor="middle" font-size="9.5">E</text>
<text transform="translate(530.4,8.3)" text-anchor="middle" font-size="9.5" font-weight="bold">Attika</text>
<rect x="596.1" y="17" width="75.7" height="21.6" fill="#fff" stroke="#9c9c9c" stroke-width="0.9"/>
<line x1="598.5" y1="22.9" x2="620.2" y2="22.9" stroke="#6a6aff" stroke-width="0.9" opacity="0.7"/>
<circle cx="609.4" cy="22.9" r="2.45" fill="#0000ff"/>
<text transform="translate(622,25.8) scale(1,1.1)" font-size="7.9">Degree</text>
<line x1="598.5" y1="32.9" x2="620.2" y2="32.9" stroke="#ff6a6a" stroke-width="0.9" opacity="0.7"/>
<circle cx="609.4" cy="32.9" r="2.45" fill="#ff0000"/>
<text transform="translate(622,35.8) scale(1,1.1)" font-size="7.9">Betweenness</text>
<line x1="40.24" y1="209.6" x2="40.24" y2="357.2" stroke="#f6f6f6" stroke-width="0.8"/>
<line x1="51.99" y1="209.6" x2="51.99" y2="357.2" stroke="#f6f6f6" stroke-width="0.8"/>
<line x1="63.73" y1="209.6" x2="63.73" y2="357.2" stroke="#f6f6f6" stroke-width="0.8"/>
<line x1="75.48" y1="209.6" x2="75.48" y2="357.2" stroke="#f6f6f6" stroke-width="0.8"/>
<line x1="98.96" y1="209.6" x2="98.96" y2="357.2" stroke="#f6f6f6" stroke-width="0.8"/>
<line x1="110.71" y1="209.6" x2="110.71" y2="357.2" stroke="#f6f6f6" stroke-width="0.8"/>
<line x1="122.45" y1="209.6" x2="122.45" y2="357.2" stroke="#f6f6f6" stroke-width="0.8"/>
<line x1="134.2" y1="209.6" x2="134.2" y2="357.2" stroke="#f6f6f6" stroke-width="0.8"/>
<line x1="157.68" y1="209.6" x2="157.68" y2="357.2" stroke="#f6f6f6" stroke-width="0.8"/>
<line x1="169.43" y1="209.6" x2="169.43" y2="357.2" stroke="#f6f6f6" stroke-width="0.8"/>
<line x1="181.17" y1="209.6" x2="181.17" y2="357.2" stroke="#f6f6f6" stroke-width="0.8"/>
<line x1="192.92" y1="209.6" x2="192.92" y2="357.2" stroke="#f6f6f6" stroke-width="0.8"/>
<line x1="216.4" y1="209.6" x2="216.4" y2="357.2" stroke="#f6f6f6" stroke-width="0.8"/>
<line x1="228.15" y1="209.6" x2="228.15" y2="357.2" stroke="#f6f6f6" stroke-width="0.8"/>
<line x1="239.89" y1="209.6" x2="239.89" y2="357.2" stroke="#f6f6f6" stroke-width="0.8"/>
<line x1="251.64" y1="209.6" x2="251.64" y2="357.2" stroke="#f6f6f6" stroke-width="0.8"/>
<line x1="275.12" y1="209.6" x2="275.12" y2="357.2" stroke="#f6f6f6" stroke-width="0.8"/>
<line x1="286.87" y1="209.6" x2="286.87" y2="357.2" stroke="#f6f6f6" stroke-width="0.8"/>
<line x1="298.61" y1="209.6" x2="298.61" y2="357.2" stroke="#f6f6f6" stroke-width="0.8"/>
<line x1="310.36" y1="209.6" x2="310.36" y2="357.2" stroke="#f6f6f6" stroke-width="0.8"/>
<line x1="28.5" y1="349.82" x2="322.1" y2="349.82" stroke="#f6f6f6" stroke-width="0.8"/>
<line x1="28.5" y1="342.44" x2="322.1" y2="342.44" stroke="#f6f6f6" stroke-width="0.8"/>
<line x1="28.5" y1="335.06" x2="322.1" y2="335.06" stroke="#f6f6f6" stroke-width="0.8"/>
<line x1="28.5" y1="320.3" x2="322.1" y2="320.3" stroke="#f6f6f6" stroke-width="0.8"/>
<line x1="28.5" y1="312.92" x2="322.1" y2="312.92" stroke="#f6f6f6" stroke-width="0.8"/>
<line x1="28.5" y1="305.54" x2="322.1" y2="305.54" stroke="#f6f6f6" stroke-width="0.8"/>
<line x1="28.5" y1="290.78" x2="322.1" y2="290.78" stroke="#f6f6f6" stroke-width="0.8"/>
<line x1="28.5" y1="283.4" x2="322.1" y2="283.4" stroke="#f6f6f6" stroke-width="0.8"/>
<line x1="28.5" y1="276.02" x2="322.1" y2="276.02" stroke="#f6f6f6" stroke-width="0.8"/>
<line x1="28.5" y1="261.26" x2="322.1" y2="261.26" stroke="#f6f6f6" stroke-width="0.8"/>
<line x1="28.5" y1="253.88" x2="322.1" y2="253.88" stroke="#f6f6f6" stroke-width="0.8"/>
<line x1="28.5" y1="246.5" x2="322.1" y2="246.5" stroke="#f6f6f6" stroke-width="0.8"/>
<line x1="28.5" y1="231.74" x2="322.1" y2="231.74" stroke="#f6f6f6" stroke-width="0.8"/>
<line x1="28.5" y1="224.36" x2="322.1" y2="224.36" stroke="#f6f6f6" stroke-width="0.8"/>
<line x1="28.5" y1="216.98" x2="322.1" y2="216.98" stroke="#f6f6f6" stroke-width="0.8"/>
<line x1="87.22" y1="209.6" x2="87.22" y2="357.2" stroke="#f0f0f0" stroke-width="0.8"/>
<line x1="145.94" y1="209.6" x2="145.94" y2="357.2" stroke="#f0f0f0" stroke-width="0.8"/>
<line x1="204.66" y1="209.6" x2="204.66" y2="357.2" stroke="#f0f0f0" stroke-width="0.8"/>
<line x1="263.38" y1="209.6" x2="263.38" y2="357.2" stroke="#f0f0f0" stroke-width="0.8"/>
<line x1="28.5" y1="327.68" x2="322.1" y2="327.68" stroke="#f0f0f0" stroke-width="0.8"/>
<line x1="28.5" y1="298.16" x2="322.1" y2="298.16" stroke="#f0f0f0" stroke-width="0.8"/>
<line x1="28.5" y1="268.64" x2="322.1" y2="268.64" stroke="#f0f0f0" stroke-width="0.8"/>
<line x1="28.5" y1="239.12" x2="322.1" y2="239.12" stroke="#f0f0f0" stroke-width="0.8"/>
<path d="M28.95,209.6 H322.1 V357.2 H28.95 Z" fill="none" stroke="#9c9c9c" stroke-width="1"/>
<line x1="87.22" y1="209.6" x2="87.22" y2="212.4" stroke="#9c9c9c" stroke-width="0.9"/>
<line x1="87.22" y1="357.2" x2="87.22" y2="354.4" stroke="#9c9c9c" stroke-width="0.9"/>
<line x1="145.94" y1="209.6" x2="145.94" y2="212.4" stroke="#9c9c9c" stroke-width="0.9"/>
<line x1="145.94" y1="357.2" x2="145.94" y2="354.4" stroke="#9c9c9c" stroke-width="0.9"/>
<line x1="204.66" y1="209.6" x2="204.66" y2="212.4" stroke="#9c9c9c" stroke-width="0.9"/>
<line x1="204.66" y1="357.2" x2="204.66" y2="354.4" stroke="#9c9c9c" stroke-width="0.9"/>
<line x1="263.38" y1="209.6" x2="263.38" y2="212.4" stroke="#9c9c9c" stroke-width="0.9"/>
<line x1="263.38" y1="357.2" x2="263.38" y2="354.4" stroke="#9c9c9c" stroke-width="0.9"/>
<line x1="28.5" y1="327.68" x2="31.3" y2="327.68" stroke="#9c9c9c" stroke-width="0.9"/>
<line x1="322.1" y1="327.68" x2="319.3" y2="327.68" stroke="#9c9c9c" stroke-width="0.9"/>
<line x1="28.5" y1="298.16" x2="31.3" y2="298.16" stroke="#9c9c9c" stroke-width="0.9"/>
<line x1="322.1" y1="298.16" x2="319.3" y2="298.16" stroke="#9c9c9c" stroke-width="0.9"/>
<line x1="28.5" y1="268.64" x2="31.3" y2="268.64" stroke="#9c9c9c" stroke-width="0.9"/>
<line x1="322.1" y1="268.64" x2="319.3" y2="268.64" stroke="#9c9c9c" stroke-width="0.9"/>
<line x1="28.5" y1="239.12" x2="31.3" y2="239.12" stroke="#9c9c9c" stroke-width="0.9"/>
<line x1="322.1" y1="239.12" x2="319.3" y2="239.12" stroke="#9c9c9c" stroke-width="0.9"/>
<path d="M28.5,209.5 L31.45,210.3 L34.4,211.4 L37.35,212.2 L40.3,213 L43.25,213.98 L46.2,215.2 L49.16,216.17 L52.11,217.7 L55.06,219.8 L58.01,220.61 L60.96,221.5 L63.91,223.18 L66.86,224.14 L69.81,224.71 L72.76,225.1 L75.71,226.5 L78.66,234.3 L81.61,259 L84.56,259.9 L87.52,262 L90.47,262.87 L93.42,263.5 L96.37,263.5 L99.32,263.5 L102.27,264.2 L105.22,265.67 L108.17,266.6 L111.12,266.6 L114.07,268.6 L117.02,268.6 L119.97,268.6 L122.92,269.2 L125.87,278.6 L128.83,315.9 L131.78,315.9 L134.73,316.17 L137.68,316.54 L140.63,316.8 L143.58,317.27 L146.53,317.7 L149.48,317.9 L152.43,318.14 L155.38,318.3 L158.33,318.43 L161.28,318.53 L164.23,318.6 L167.19,318.6 L170.14,318.6 L173.09,318.6 L176.04,320.5 L178.99,321.17 L181.94,321.6 L184.89,325 L187.84,325.75 L190.79,327.35 L193.74,329.5 L196.69,335.3 L199.64,335.3 L202.59,335.57 L205.55,336 L208.5,336.31 L211.45,336.6 L214.4,337.06 L217.35,337.3 L220.3,339.6 L223.25,340.5 L226.2,341.18 L229.15,342.09 L232.1,342.54 L235.05,342.6 L238,342.67 L240.95,342.74 L243.91,342.81 L246.86,342.87 L249.81,342.94 L252.76,343.95 L255.71,345.9 L258.66,346.71 L261.61,346.74 L264.56,346.77 L267.51,346.79 L270.46,346.82 L273.41,346.85 L276.36,346.88 L279.31,346.9 L282.26,346.93 L285.22,346.96 L288.17,346.99 L291.12,347.01 L294.07,347.04 L297.02,347.07 L299.97,347.1 L302.92,347.12 L305.87,347.15 L308.82,347.18 L311.77,347.21 L314.72,347.23 L317.67,347.26 L320.62,347.29" fill="none" stroke="#6a6aff" stroke-width="0.9"/>
<g fill="#0000ff"><circle cx="28.5" cy="209.5" r="2.45"/><circle cx="31.45" cy="210.3" r="2.45"/><circle cx="34.4" cy="211.4" r="2.45"/><circle cx="37.35" cy="212.2" r="2.45"/><circle cx="40.3" cy="213" r="2.45"/><circle cx="43.25" cy="213.98" r="2.45"/><circle cx="46.2" cy="215.2" r="2.45"/><circle cx="49.16" cy="216.17" r="2.45"/><circle cx="52.11" cy="217.7" r="2.45"/><circle cx="55.06" cy="219.8" r="2.45"/><circle cx="58.01" cy="220.61" r="2.45"/><circle cx="60.96" cy="221.5" r="2.45"/><circle cx="63.91" cy="223.18" r="2.45"/><circle cx="66.86" cy="224.14" r="2.45"/><circle cx="69.81" cy="224.71" r="2.45"/><circle cx="72.76" cy="225.1" r="2.45"/><circle cx="75.71" cy="226.5" r="2.45"/><circle cx="78.66" cy="234.3" r="2.45"/><circle cx="81.61" cy="259" r="2.45"/><circle cx="84.56" cy="259.9" r="2.45"/><circle cx="87.52" cy="262" r="2.45"/><circle cx="90.47" cy="262.87" r="2.45"/><circle cx="93.42" cy="263.5" r="2.45"/><circle cx="96.37" cy="263.5" r="2.45"/><circle cx="99.32" cy="263.5" r="2.45"/><circle cx="102.27" cy="264.2" r="2.45"/><circle cx="105.22" cy="265.67" r="2.45"/><circle cx="108.17" cy="266.6" r="2.45"/><circle cx="111.12" cy="266.6" r="2.45"/><circle cx="114.07" cy="268.6" r="2.45"/><circle cx="117.02" cy="268.6" r="2.45"/><circle cx="119.97" cy="268.6" r="2.45"/><circle cx="122.92" cy="269.2" r="2.45"/><circle cx="125.87" cy="278.6" r="2.45"/><circle cx="128.83" cy="315.9" r="2.45"/><circle cx="131.78" cy="315.9" r="2.45"/><circle cx="134.73" cy="316.17" r="2.45"/><circle cx="137.68" cy="316.54" r="2.45"/><circle cx="140.63" cy="316.8" r="2.45"/><circle cx="143.58" cy="317.27" r="2.45"/><circle cx="146.53" cy="317.7" r="2.45"/><circle cx="149.48" cy="317.9" r="2.45"/><circle cx="152.43" cy="318.14" r="2.45"/><circle cx="155.38" cy="318.3" r="2.45"/><circle cx="158.33" cy="318.43" r="2.45"/><circle cx="161.28" cy="318.53" r="2.45"/><circle cx="164.23" cy="318.6" r="2.45"/><circle cx="167.19" cy="318.6" r="2.45"/><circle cx="170.14" cy="318.6" r="2.45"/><circle cx="173.09" cy="318.6" r="2.45"/><circle cx="176.04" cy="320.5" r="2.45"/><circle cx="178.99" cy="321.17" r="2.45"/><circle cx="181.94" cy="321.6" r="2.45"/><circle cx="184.89" cy="325" r="2.45"/><circle cx="187.84" cy="325.75" r="2.45"/><circle cx="190.79" cy="327.35" r="2.45"/><circle cx="193.74" cy="329.5" r="2.45"/><circle cx="196.69" cy="335.3" r="2.45"/><circle cx="199.64" cy="335.3" r="2.45"/><circle cx="202.59" cy="335.57" r="2.45"/><circle cx="205.55" cy="336" r="2.45"/><circle cx="208.5" cy="336.31" r="2.45"/><circle cx="211.45" cy="336.6" r="2.45"/><circle cx="214.4" cy="337.06" r="2.45"/><circle cx="217.35" cy="337.3" r="2.45"/><circle cx="220.3" cy="339.6" r="2.45"/><circle cx="223.25" cy="340.5" r="2.45"/><circle cx="226.2" cy="341.18" r="2.45"/><circle cx="229.15" cy="342.09" r="2.45"/><circle cx="232.1" cy="342.54" r="2.45"/><circle cx="235.05" cy="342.6" r="2.45"/><circle cx="238" cy="342.67" r="2.45"/><circle cx="240.95" cy="342.74" r="2.45"/><circle cx="243.91" cy="342.81" r="2.45"/><circle cx="246.86" cy="342.87" r="2.45"/><circle cx="249.81" cy="342.94" r="2.45"/><circle cx="252.76" cy="343.95" r="2.45"/><circle cx="255.71" cy="345.9" r="2.45"/><circle cx="258.66" cy="346.71" r="2.45"/><circle cx="261.61" cy="346.74" r="2.45"/><circle cx="264.56" cy="346.77" r="2.45"/><circle cx="267.51" cy="346.79" r="2.45"/><circle cx="270.46" cy="346.82" r="2.45"/><circle cx="273.41" cy="346.85" r="2.45"/><circle cx="276.36" cy="346.88" r="2.45"/><circle cx="279.31" cy="346.9" r="2.45"/><circle cx="282.26" cy="346.93" r="2.45"/><circle cx="285.22" cy="346.96" r="2.45"/><circle cx="288.17" cy="346.99" r="2.45"/><circle cx="291.12" cy="347.01" r="2.45"/><circle cx="294.07" cy="347.04" r="2.45"/><circle cx="297.02" cy="347.07" r="2.45"/><circle cx="299.97" cy="347.1" r="2.45"/><circle cx="302.92" cy="347.12" r="2.45"/><circle cx="305.87" cy="347.15" r="2.45"/><circle cx="308.82" cy="347.18" r="2.45"/><circle cx="311.77" cy="347.21" r="2.45"/><circle cx="314.72" cy="347.23" r="2.45"/><circle cx="317.67" cy="347.26" r="2.45"/><circle cx="320.62" cy="347.29" r="2.45"/></g>
<path d="M28.5,209.3 L31.45,210.5 L34.4,214.05 L37.35,216.3 L40.3,216.96 L43.25,217.7 L46.2,218.08 L49.16,218.6 L52.11,218.94 L55.06,219.37 L58.01,219.7 L60.96,220.19 L63.91,220.72 L66.86,221.3 L69.81,221.91 L72.76,222.5 L75.71,225.11 L78.66,226.15 L81.61,226.8 L84.56,227.34 L87.52,227.9 L90.47,228.49 L93.42,228.9 L96.37,229.67 L99.32,230.2 L102.27,231.8 L105.22,234.1 L108.17,236.7 L111.12,237.27 L114.07,237.74 L117.02,238.2 L119.97,242.1 L122.92,243.17 L125.87,243.7 L128.83,244.5 L131.78,246.8 L134.73,247.6 L137.68,267.4 L140.63,268.6 L143.58,269.28 L146.53,270.5 L149.48,271.25 L152.43,272.18 L155.38,272.8 L158.33,273.78 L161.28,274.6 L164.23,274.98 L167.19,275.4 L170.14,277.7 L173.09,279.9 L176.04,280.59 L178.99,282.18 L181.94,283.9 L184.89,284.4 L187.84,284.72 L190.79,285.3 L193.74,286.37 L196.69,287.59 L199.64,288.6 L202.59,292.9 L205.55,322.1 L208.5,325.5 L211.45,335 L214.4,335 L217.35,335.19 L220.3,335.57 L223.25,336 L226.2,340.5 L229.15,341.02 L232.1,341.82 L235.05,342.7 L238,342.98 L240.95,343.1 L243.91,343.1 L246.86,343.1 L249.81,343.1 L252.76,343.1 L255.71,348.44 L258.66,349.82 L261.61,349.88 L264.56,349.93 L267.51,349.99 L270.46,350.04 L273.41,350.1 L276.36,350.15 L279.31,350.21 L282.26,350.26 L285.22,350.32 L288.17,350.37 L291.12,350.43 L294.07,350.48 L297.02,350.54 L299.97,350.59 L302.92,350.65 L305.87,350.7 L308.82,350.76 L311.77,350.81 L314.72,350.86 L317.67,350.92 L320.62,350.97" fill="none" stroke="#ff6a6a" stroke-width="0.9"/>
<g fill="#ff0000"><circle cx="28.5" cy="209.3" r="2.45"/><circle cx="31.45" cy="210.5" r="2.45"/><circle cx="34.4" cy="214.05" r="2.45"/><circle cx="37.35" cy="216.3" r="2.45"/><circle cx="40.3" cy="216.96" r="2.45"/><circle cx="43.25" cy="217.7" r="2.45"/><circle cx="46.2" cy="218.08" r="2.45"/><circle cx="49.16" cy="218.6" r="2.45"/><circle cx="52.11" cy="218.94" r="2.45"/><circle cx="55.06" cy="219.37" r="2.45"/><circle cx="58.01" cy="219.7" r="2.45"/><circle cx="60.96" cy="220.19" r="2.45"/><circle cx="63.91" cy="220.72" r="2.45"/><circle cx="66.86" cy="221.3" r="2.45"/><circle cx="69.81" cy="221.91" r="2.45"/><circle cx="72.76" cy="222.5" r="2.45"/><circle cx="75.71" cy="225.11" r="2.45"/><circle cx="78.66" cy="226.15" r="2.45"/><circle cx="81.61" cy="226.8" r="2.45"/><circle cx="84.56" cy="227.34" r="2.45"/><circle cx="87.52" cy="227.9" r="2.45"/><circle cx="90.47" cy="228.49" r="2.45"/><circle cx="93.42" cy="228.9" r="2.45"/><circle cx="96.37" cy="229.67" r="2.45"/><circle cx="99.32" cy="230.2" r="2.45"/><circle cx="102.27" cy="231.8" r="2.45"/><circle cx="105.22" cy="234.1" r="2.45"/><circle cx="108.17" cy="236.7" r="2.45"/><circle cx="111.12" cy="237.27" r="2.45"/><circle cx="114.07" cy="237.74" r="2.45"/><circle cx="117.02" cy="238.2" r="2.45"/><circle cx="119.97" cy="242.1" r="2.45"/><circle cx="122.92" cy="243.17" r="2.45"/><circle cx="125.87" cy="243.7" r="2.45"/><circle cx="128.83" cy="244.5" r="2.45"/><circle cx="131.78" cy="246.8" r="2.45"/><circle cx="134.73" cy="247.6" r="2.45"/><circle cx="137.68" cy="267.4" r="2.45"/><circle cx="140.63" cy="268.6" r="2.45"/><circle cx="143.58" cy="269.28" r="2.45"/><circle cx="146.53" cy="270.5" r="2.45"/><circle cx="149.48" cy="271.25" r="2.45"/><circle cx="152.43" cy="272.18" r="2.45"/><circle cx="155.38" cy="272.8" r="2.45"/><circle cx="158.33" cy="273.78" r="2.45"/><circle cx="161.28" cy="274.6" r="2.45"/><circle cx="164.23" cy="274.98" r="2.45"/><circle cx="167.19" cy="275.4" r="2.45"/><circle cx="170.14" cy="277.7" r="2.45"/><circle cx="173.09" cy="279.9" r="2.45"/><circle cx="176.04" cy="280.59" r="2.45"/><circle cx="178.99" cy="282.18" r="2.45"/><circle cx="181.94" cy="283.9" r="2.45"/><circle cx="184.89" cy="284.4" r="2.45"/><circle cx="187.84" cy="284.72" r="2.45"/><circle cx="190.79" cy="285.3" r="2.45"/><circle cx="193.74" cy="286.37" r="2.45"/><circle cx="196.69" cy="287.59" r="2.45"/><circle cx="199.64" cy="288.6" r="2.45"/><circle cx="202.59" cy="292.9" r="2.45"/><circle cx="205.55" cy="322.1" r="2.45"/><circle cx="208.5" cy="325.5" r="2.45"/><circle cx="211.45" cy="335" r="2.45"/><circle cx="214.4" cy="335" r="2.45"/><circle cx="217.35" cy="335.19" r="2.45"/><circle cx="220.3" cy="335.57" r="2.45"/><circle cx="223.25" cy="336" r="2.45"/><circle cx="226.2" cy="340.5" r="2.45"/><circle cx="229.15" cy="341.02" r="2.45"/><circle cx="232.1" cy="341.82" r="2.45"/><circle cx="235.05" cy="342.7" r="2.45"/><circle cx="238" cy="342.98" r="2.45"/><circle cx="240.95" cy="343.1" r="2.45"/><circle cx="243.91" cy="343.1" r="2.45"/><circle cx="246.86" cy="343.1" r="2.45"/><circle cx="249.81" cy="343.1" r="2.45"/><circle cx="252.76" cy="343.1" r="2.45"/><circle cx="255.71" cy="348.44" r="2.45"/><circle cx="258.66" cy="349.82" r="2.45"/><circle cx="261.61" cy="349.88" r="2.45"/><circle cx="264.56" cy="349.93" r="2.45"/><circle cx="267.51" cy="349.99" r="2.45"/><circle cx="270.46" cy="350.04" r="2.45"/><circle cx="273.41" cy="350.1" r="2.45"/><circle cx="276.36" cy="350.15" r="2.45"/><circle cx="279.31" cy="350.21" r="2.45"/><circle cx="282.26" cy="350.26" r="2.45"/><circle cx="285.22" cy="350.32" r="2.45"/><circle cx="288.17" cy="350.37" r="2.45"/><circle cx="291.12" cy="350.43" r="2.45"/><circle cx="294.07" cy="350.48" r="2.45"/><circle cx="297.02" cy="350.54" r="2.45"/><circle cx="299.97" cy="350.59" r="2.45"/><circle cx="302.92" cy="350.65" r="2.45"/><circle cx="305.87" cy="350.7" r="2.45"/><circle cx="308.82" cy="350.76" r="2.45"/><circle cx="311.77" cy="350.81" r="2.45"/><circle cx="314.72" cy="350.86" r="2.45"/><circle cx="317.67" cy="350.92" r="2.45"/><circle cx="320.62" cy="350.97" r="2.45"/></g>
<text transform="translate(28.5,370.1) scale(1,1.11)" text-anchor="middle" font-size="8.7">0</text>
<text transform="translate(87.22,370.1) scale(1,1.11)" text-anchor="middle" font-size="8.7">0.1</text>
<text transform="translate(145.94,370.1) scale(1,1.11)" text-anchor="middle" font-size="8.7">0.2</text>
<text transform="translate(204.66,370.1) scale(1,1.11)" text-anchor="middle" font-size="8.7">0.3</text>
<text transform="translate(263.38,370.1) scale(1,1.11)" text-anchor="middle" font-size="8.7">0.4</text>
<text transform="translate(322.1,370.1) scale(1,1.11)" text-anchor="middle" font-size="8.7">0.5</text>
<text transform="translate(25.1,360.8) scale(1,1.11)" text-anchor="end" font-size="8.7">0</text>
<text transform="translate(25.1,331.28) scale(1,1.11)" text-anchor="end" font-size="8.7">0.2</text>
<text transform="translate(25.1,301.76) scale(1,1.11)" text-anchor="end" font-size="8.7">0.4</text>
<text transform="translate(25.1,272.24) scale(1,1.11)" text-anchor="end" font-size="8.7">0.6</text>
<text transform="translate(25.1,242.72) scale(1,1.11)" text-anchor="end" font-size="8.7">0.8</text>
<text transform="translate(25.1,213.2) scale(1,1.11)" text-anchor="end" font-size="8.7">1</text>
<text transform="translate(175.3,382.5) scale(1,1.09)" text-anchor="middle" font-size="9.6">Fraction of removal nodes</text>
<text transform="translate(8.8,284) rotate(-90) scale(1,1.14)" text-anchor="middle" font-size="9.5">S</text>
<rect x="241" y="215.8" width="75.7" height="21.6" fill="#fff" stroke="#9c9c9c" stroke-width="0.9"/>
<line x1="243.4" y1="221.7" x2="265.1" y2="221.7" stroke="#6a6aff" stroke-width="0.9" opacity="0.7"/>
<circle cx="254.3" cy="221.7" r="2.45" fill="#0000ff"/>
<text transform="translate(266.9,224.6) scale(1,1.1)" font-size="7.9">Degree</text>
<line x1="243.4" y1="231.7" x2="265.1" y2="231.7" stroke="#ff6a6a" stroke-width="0.9" opacity="0.7"/>
<circle cx="254.3" cy="231.7" r="2.45" fill="#ff0000"/>
<text transform="translate(266.9,234.6) scale(1,1.1)" font-size="7.9">Betweenness</text>
<line x1="395.34" y1="209.6" x2="395.34" y2="357.2" stroke="#f6f6f6" stroke-width="0.8"/>
<line x1="407.09" y1="209.6" x2="407.09" y2="357.2" stroke="#f6f6f6" stroke-width="0.8"/>
<line x1="418.83" y1="209.6" x2="418.83" y2="357.2" stroke="#f6f6f6" stroke-width="0.8"/>
<line x1="430.58" y1="209.6" x2="430.58" y2="357.2" stroke="#f6f6f6" stroke-width="0.8"/>
<line x1="454.06" y1="209.6" x2="454.06" y2="357.2" stroke="#f6f6f6" stroke-width="0.8"/>
<line x1="465.81" y1="209.6" x2="465.81" y2="357.2" stroke="#f6f6f6" stroke-width="0.8"/>
<line x1="477.55" y1="209.6" x2="477.55" y2="357.2" stroke="#f6f6f6" stroke-width="0.8"/>
<line x1="489.3" y1="209.6" x2="489.3" y2="357.2" stroke="#f6f6f6" stroke-width="0.8"/>
<line x1="512.78" y1="209.6" x2="512.78" y2="357.2" stroke="#f6f6f6" stroke-width="0.8"/>
<line x1="524.53" y1="209.6" x2="524.53" y2="357.2" stroke="#f6f6f6" stroke-width="0.8"/>
<line x1="536.27" y1="209.6" x2="536.27" y2="357.2" stroke="#f6f6f6" stroke-width="0.8"/>
<line x1="548.02" y1="209.6" x2="548.02" y2="357.2" stroke="#f6f6f6" stroke-width="0.8"/>
<line x1="571.5" y1="209.6" x2="571.5" y2="357.2" stroke="#f6f6f6" stroke-width="0.8"/>
<line x1="583.25" y1="209.6" x2="583.25" y2="357.2" stroke="#f6f6f6" stroke-width="0.8"/>
<line x1="594.99" y1="209.6" x2="594.99" y2="357.2" stroke="#f6f6f6" stroke-width="0.8"/>
<line x1="606.74" y1="209.6" x2="606.74" y2="357.2" stroke="#f6f6f6" stroke-width="0.8"/>
<line x1="630.22" y1="209.6" x2="630.22" y2="357.2" stroke="#f6f6f6" stroke-width="0.8"/>
<line x1="641.97" y1="209.6" x2="641.97" y2="357.2" stroke="#f6f6f6" stroke-width="0.8"/>
<line x1="653.71" y1="209.6" x2="653.71" y2="357.2" stroke="#f6f6f6" stroke-width="0.8"/>
<line x1="665.46" y1="209.6" x2="665.46" y2="357.2" stroke="#f6f6f6" stroke-width="0.8"/>
<line x1="383.6" y1="349.82" x2="677.2" y2="349.82" stroke="#f6f6f6" stroke-width="0.8"/>
<line x1="383.6" y1="342.44" x2="677.2" y2="342.44" stroke="#f6f6f6" stroke-width="0.8"/>
<line x1="383.6" y1="335.06" x2="677.2" y2="335.06" stroke="#f6f6f6" stroke-width="0.8"/>
<line x1="383.6" y1="320.3" x2="677.2" y2="320.3" stroke="#f6f6f6" stroke-width="0.8"/>
<line x1="383.6" y1="312.92" x2="677.2" y2="312.92" stroke="#f6f6f6" stroke-width="0.8"/>
<line x1="383.6" y1="305.54" x2="677.2" y2="305.54" stroke="#f6f6f6" stroke-width="0.8"/>
<line x1="383.6" y1="290.78" x2="677.2" y2="290.78" stroke="#f6f6f6" stroke-width="0.8"/>
<line x1="383.6" y1="283.4" x2="677.2" y2="283.4" stroke="#f6f6f6" stroke-width="0.8"/>
<line x1="383.6" y1="276.02" x2="677.2" y2="276.02" stroke="#f6f6f6" stroke-width="0.8"/>
<line x1="383.6" y1="261.26" x2="677.2" y2="261.26" stroke="#f6f6f6" stroke-width="0.8"/>
<line x1="383.6" y1="253.88" x2="677.2" y2="253.88" stroke="#f6f6f6" stroke-width="0.8"/>
<line x1="383.6" y1="246.5" x2="677.2" y2="246.5" stroke="#f6f6f6" stroke-width="0.8"/>
<line x1="383.6" y1="231.74" x2="677.2" y2="231.74" stroke="#f6f6f6" stroke-width="0.8"/>
<line x1="383.6" y1="224.36" x2="677.2" y2="224.36" stroke="#f6f6f6" stroke-width="0.8"/>
<line x1="383.6" y1="216.98" x2="677.2" y2="216.98" stroke="#f6f6f6" stroke-width="0.8"/>
<line x1="442.32" y1="209.6" x2="442.32" y2="357.2" stroke="#f0f0f0" stroke-width="0.8"/>
<line x1="501.04" y1="209.6" x2="501.04" y2="357.2" stroke="#f0f0f0" stroke-width="0.8"/>
<line x1="559.76" y1="209.6" x2="559.76" y2="357.2" stroke="#f0f0f0" stroke-width="0.8"/>
<line x1="618.48" y1="209.6" x2="618.48" y2="357.2" stroke="#f0f0f0" stroke-width="0.8"/>
<line x1="383.6" y1="327.68" x2="677.2" y2="327.68" stroke="#f0f0f0" stroke-width="0.8"/>
<line x1="383.6" y1="298.16" x2="677.2" y2="298.16" stroke="#f0f0f0" stroke-width="0.8"/>
<line x1="383.6" y1="268.64" x2="677.2" y2="268.64" stroke="#f0f0f0" stroke-width="0.8"/>
<line x1="383.6" y1="239.12" x2="677.2" y2="239.12" stroke="#f0f0f0" stroke-width="0.8"/>
<path d="M384.05,209.6 H677.2 V357.2 H384.05 Z" fill="none" stroke="#9c9c9c" stroke-width="1"/>
<line x1="442.32" y1="209.6" x2="442.32" y2="212.4" stroke="#9c9c9c" stroke-width="0.9"/>
<line x1="442.32" y1="357.2" x2="442.32" y2="354.4" stroke="#9c9c9c" stroke-width="0.9"/>
<line x1="501.04" y1="209.6" x2="501.04" y2="212.4" stroke="#9c9c9c" stroke-width="0.9"/>
<line x1="501.04" y1="357.2" x2="501.04" y2="354.4" stroke="#9c9c9c" stroke-width="0.9"/>
<line x1="559.76" y1="209.6" x2="559.76" y2="212.4" stroke="#9c9c9c" stroke-width="0.9"/>
<line x1="559.76" y1="357.2" x2="559.76" y2="354.4" stroke="#9c9c9c" stroke-width="0.9"/>
<line x1="618.48" y1="209.6" x2="618.48" y2="212.4" stroke="#9c9c9c" stroke-width="0.9"/>
<line x1="618.48" y1="357.2" x2="618.48" y2="354.4" stroke="#9c9c9c" stroke-width="0.9"/>
<line x1="383.6" y1="327.68" x2="386.4" y2="327.68" stroke="#9c9c9c" stroke-width="0.9"/>
<line x1="677.2" y1="327.68" x2="674.4" y2="327.68" stroke="#9c9c9c" stroke-width="0.9"/>
<line x1="383.6" y1="298.16" x2="386.4" y2="298.16" stroke="#9c9c9c" stroke-width="0.9"/>
<line x1="677.2" y1="298.16" x2="674.4" y2="298.16" stroke="#9c9c9c" stroke-width="0.9"/>
<line x1="383.6" y1="268.64" x2="386.4" y2="268.64" stroke="#9c9c9c" stroke-width="0.9"/>
<line x1="677.2" y1="268.64" x2="674.4" y2="268.64" stroke="#9c9c9c" stroke-width="0.9"/>
<line x1="383.6" y1="239.12" x2="386.4" y2="239.12" stroke="#9c9c9c" stroke-width="0.9"/>
<line x1="677.2" y1="239.12" x2="674.4" y2="239.12" stroke="#9c9c9c" stroke-width="0.9"/>
<path d="M383.6,209.4 L387.44,210.2 L391.28,212.2 L395.11,213.9 L398.95,215.9 L402.79,217.4 L406.63,218.8 L410.47,220.4 L414.3,222.3 L418.14,224 L421.98,225.5 L425.82,227.8 L429.65,230.6 L433.49,236 L437.33,238.4 L441.17,240.7 L445.01,261.7 L448.84,263.7 L452.68,266.8 L456.52,277.3 L460.36,304.8 L464.2,305.5 L468.03,307 L471.87,313.7 L475.71,324 L479.55,325.6 L483.39,329.8 L487.22,329.8 L491.06,330.9 L494.9,330.9 L498.74,331.03 L502.58,331.17 L506.41,331.3 L510.25,339.8 L514.09,342.9 L517.93,343.1 L521.76,343.1 L525.6,343.1 L529.44,343.1 L533.28,343.1 L537.12,343.1 L540.95,343.1 L544.79,344.1 L548.63,344.1 L552.47,344.1 L556.31,344.1 L560.14,344.1 L563.98,348 L567.82,348.11 L571.66,348.21 L575.5,348.31 L579.33,348.4 L583.17,351.9 L587.01,353.8 L590.85,354.3 L594.68,354.31 L598.52,354.32 L602.36,354.34 L606.2,354.35 L610.04,354.36 L613.87,354.38 L617.71,354.39 L621.55,354.4 L625.39,354.42 L629.23,354.43 L633.06,354.45 L636.9,354.46 L640.74,354.47 L644.58,354.49 L648.42,354.5 L652.25,354.51 L656.09,354.53 L659.93,354.54 L663.77,354.55 L667.61,354.57 L671.44,354.58 L675.28,354.59" fill="none" stroke="#6a6aff" stroke-width="0.9"/>
<g fill="#0000ff"><circle cx="383.6" cy="209.4" r="2.45"/><circle cx="387.44" cy="210.2" r="2.45"/><circle cx="391.28" cy="212.2" r="2.45"/><circle cx="395.11" cy="213.9" r="2.45"/><circle cx="398.95" cy="215.9" r="2.45"/><circle cx="402.79" cy="217.4" r="2.45"/><circle cx="406.63" cy="218.8" r="2.45"/><circle cx="410.47" cy="220.4" r="2.45"/><circle cx="414.3" cy="222.3" r="2.45"/><circle cx="418.14" cy="224" r="2.45"/><circle cx="421.98" cy="225.5" r="2.45"/><circle cx="425.82" cy="227.8" r="2.45"/><circle cx="429.65" cy="230.6" r="2.45"/><circle cx="433.49" cy="236" r="2.45"/><circle cx="437.33" cy="238.4" r="2.45"/><circle cx="441.17" cy="240.7" r="2.45"/><circle cx="445.01" cy="261.7" r="2.45"/><circle cx="448.84" cy="263.7" r="2.45"/><circle cx="452.68" cy="266.8" r="2.45"/><circle cx="456.52" cy="277.3" r="2.45"/><circle cx="460.36" cy="304.8" r="2.45"/><circle cx="464.2" cy="305.5" r="2.45"/><circle cx="468.03" cy="307" r="2.45"/><circle cx="471.87" cy="313.7" r="2.45"/><circle cx="475.71" cy="324" r="2.45"/><circle cx="479.55" cy="325.6" r="2.45"/><circle cx="483.39" cy="329.8" r="2.45"/><circle cx="487.22" cy="329.8" r="2.45"/><circle cx="491.06" cy="330.9" r="2.45"/><circle cx="494.9" cy="330.9" r="2.45"/><circle cx="498.74" cy="331.03" r="2.45"/><circle cx="502.58" cy="331.17" r="2.45"/><circle cx="506.41" cy="331.3" r="2.45"/><circle cx="510.25" cy="339.8" r="2.45"/><circle cx="514.09" cy="342.9" r="2.45"/><circle cx="517.93" cy="343.1" r="2.45"/><circle cx="521.76" cy="343.1" r="2.45"/><circle cx="525.6" cy="343.1" r="2.45"/><circle cx="529.44" cy="343.1" r="2.45"/><circle cx="533.28" cy="343.1" r="2.45"/><circle cx="537.12" cy="343.1" r="2.45"/><circle cx="540.95" cy="343.1" r="2.45"/><circle cx="544.79" cy="344.1" r="2.45"/><circle cx="548.63" cy="344.1" r="2.45"/><circle cx="552.47" cy="344.1" r="2.45"/><circle cx="556.31" cy="344.1" r="2.45"/><circle cx="560.14" cy="344.1" r="2.45"/><circle cx="563.98" cy="348" r="2.45"/><circle cx="567.82" cy="348.11" r="2.45"/><circle cx="571.66" cy="348.21" r="2.45"/><circle cx="575.5" cy="348.31" r="2.45"/><circle cx="579.33" cy="348.4" r="2.45"/><circle cx="583.17" cy="351.9" r="2.45"/><circle cx="587.01" cy="353.8" r="2.45"/><circle cx="590.85" cy="354.3" r="2.45"/><circle cx="594.68" cy="354.31" r="2.45"/><circle cx="598.52" cy="354.32" r="2.45"/><circle cx="602.36" cy="354.34" r="2.45"/><circle cx="606.2" cy="354.35" r="2.45"/><circle cx="610.04" cy="354.36" r="2.45"/><circle cx="613.87" cy="354.38" r="2.45"/><circle cx="617.71" cy="354.39" r="2.45"/><circle cx="621.55" cy="354.4" r="2.45"/><circle cx="625.39" cy="354.42" r="2.45"/><circle cx="629.23" cy="354.43" r="2.45"/><circle cx="633.06" cy="354.45" r="2.45"/><circle cx="636.9" cy="354.46" r="2.45"/><circle cx="640.74" cy="354.47" r="2.45"/><circle cx="644.58" cy="354.49" r="2.45"/><circle cx="648.42" cy="354.5" r="2.45"/><circle cx="652.25" cy="354.51" r="2.45"/><circle cx="656.09" cy="354.53" r="2.45"/><circle cx="659.93" cy="354.54" r="2.45"/><circle cx="663.77" cy="354.55" r="2.45"/><circle cx="667.61" cy="354.57" r="2.45"/><circle cx="671.44" cy="354.58" r="2.45"/><circle cx="675.28" cy="354.59" r="2.45"/></g>
<path d="M383.6,209.4 L387.44,211.1 L391.28,213.4 L395.11,215.1 L398.95,217.1 L402.79,218.6 L406.63,220 L410.47,221.1 L414.3,222.6 L418.14,224 L421.98,225.2 L425.82,226.3 L429.65,227.8 L433.49,229 L437.33,230.6 L441.17,231.8 L445.01,233.4 L448.84,234.9 L452.68,236 L456.52,237.6 L460.36,247.7 L464.2,248.5 L468.03,249.8 L471.87,251.3 L475.71,253.5 L479.55,255.4 L483.39,256.2 L487.22,258.6 L491.06,262.3 L494.9,265.4 L498.74,266 L502.58,267.7 L506.41,269.3 L510.25,270.6 L514.09,273.2 L517.93,273.4 L521.76,274.5 L525.6,276.4 L529.44,278.6 L533.28,281 L537.12,285.5 L540.95,286.2 L544.79,286.4 L548.63,287.4 L552.47,289.7 L556.31,290.5 L560.14,302.1 L563.98,303.6 L567.82,303.9 L571.66,304.3 L575.5,305 L579.33,305.7 L583.17,309.3 L587.01,329.7 L590.85,334.9 L594.68,336.4 L598.52,337.2 L602.36,338 L606.2,338 L610.04,338 L613.87,338 L617.71,338.7 L621.55,344.3 L625.39,345.7 L629.23,346.6 L633.06,347 L636.9,347.37 L640.74,347.7 L644.58,348.11 L648.42,348.4 L652.25,348.55 L656.09,348.66 L659.93,348.78 L663.77,348.9 L667.61,349.01 L671.44,349.13 L675.28,349.25" fill="none" stroke="#ff6a6a" stroke-width="0.9"/>
<g fill="#ff0000"><circle cx="383.6" cy="209.4" r="2.45"/><circle cx="387.44" cy="211.1" r="2.45"/><circle cx="391.28" cy="213.4" r="2.45"/><circle cx="395.11" cy="215.1" r="2.45"/><circle cx="398.95" cy="217.1" r="2.45"/><circle cx="402.79" cy="218.6" r="2.45"/><circle cx="406.63" cy="220" r="2.45"/><circle cx="410.47" cy="221.1" r="2.45"/><circle cx="414.3" cy="222.6" r="2.45"/><circle cx="418.14" cy="224" r="2.45"/><circle cx="421.98" cy="225.2" r="2.45"/><circle cx="425.82" cy="226.3" r="2.45"/><circle cx="429.65" cy="227.8" r="2.45"/><circle cx="433.49" cy="229" r="2.45"/><circle cx="437.33" cy="230.6" r="2.45"/><circle cx="441.17" cy="231.8" r="2.45"/><circle cx="445.01" cy="233.4" r="2.45"/><circle cx="448.84" cy="234.9" r="2.45"/><circle cx="452.68" cy="236" r="2.45"/><circle cx="456.52" cy="237.6" r="2.45"/><circle cx="460.36" cy="247.7" r="2.45"/><circle cx="464.2" cy="248.5" r="2.45"/><circle cx="468.03" cy="249.8" r="2.45"/><circle cx="471.87" cy="251.3" r="2.45"/><circle cx="475.71" cy="253.5" r="2.45"/><circle cx="479.55" cy="255.4" r="2.45"/><circle cx="483.39" cy="256.2" r="2.45"/><circle cx="487.22" cy="258.6" r="2.45"/><circle cx="491.06" cy="262.3" r="2.45"/><circle cx="494.9" cy="265.4" r="2.45"/><circle cx="498.74" cy="266" r="2.45"/><circle cx="502.58" cy="267.7" r="2.45"/><circle cx="506.41" cy="269.3" r="2.45"/><circle cx="510.25" cy="270.6" r="2.45"/><circle cx="514.09" cy="273.2" r="2.45"/><circle cx="517.93" cy="273.4" r="2.45"/><circle cx="521.76" cy="274.5" r="2.45"/><circle cx="525.6" cy="276.4" r="2.45"/><circle cx="529.44" cy="278.6" r="2.45"/><circle cx="533.28" cy="281" r="2.45"/><circle cx="537.12" cy="285.5" r="2.45"/><circle cx="540.95" cy="286.2" r="2.45"/><circle cx="544.79" cy="286.4" r="2.45"/><circle cx="548.63" cy="287.4" r="2.45"/><circle cx="552.47" cy="289.7" r="2.45"/><circle cx="556.31" cy="290.5" r="2.45"/><circle cx="560.14" cy="302.1" r="2.45"/><circle cx="563.98" cy="303.6" r="2.45"/><circle cx="567.82" cy="303.9" r="2.45"/><circle cx="571.66" cy="304.3" r="2.45"/><circle cx="575.5" cy="305" r="2.45"/><circle cx="579.33" cy="305.7" r="2.45"/><circle cx="583.17" cy="309.3" r="2.45"/><circle cx="587.01" cy="329.7" r="2.45"/><circle cx="590.85" cy="334.9" r="2.45"/><circle cx="594.68" cy="336.4" r="2.45"/><circle cx="598.52" cy="337.2" r="2.45"/><circle cx="602.36" cy="338" r="2.45"/><circle cx="606.2" cy="338" r="2.45"/><circle cx="610.04" cy="338" r="2.45"/><circle cx="613.87" cy="338" r="2.45"/><circle cx="617.71" cy="338.7" r="2.45"/><circle cx="621.55" cy="344.3" r="2.45"/><circle cx="625.39" cy="345.7" r="2.45"/><circle cx="629.23" cy="346.6" r="2.45"/><circle cx="633.06" cy="347" r="2.45"/><circle cx="636.9" cy="347.37" r="2.45"/><circle cx="640.74" cy="347.7" r="2.45"/><circle cx="644.58" cy="348.11" r="2.45"/><circle cx="648.42" cy="348.4" r="2.45"/><circle cx="652.25" cy="348.55" r="2.45"/><circle cx="656.09" cy="348.66" r="2.45"/><circle cx="659.93" cy="348.78" r="2.45"/><circle cx="663.77" cy="348.9" r="2.45"/><circle cx="667.61" cy="349.01" r="2.45"/><circle cx="671.44" cy="349.13" r="2.45"/><circle cx="675.28" cy="349.25" r="2.45"/></g>
<text transform="translate(383.6,370.1) scale(1,1.11)" text-anchor="middle" font-size="8.7">0</text>
<text transform="translate(442.32,370.1) scale(1,1.11)" text-anchor="middle" font-size="8.7">0.1</text>
<text transform="translate(501.04,370.1) scale(1,1.11)" text-anchor="middle" font-size="8.7">0.2</text>
<text transform="translate(559.76,370.1) scale(1,1.11)" text-anchor="middle" font-size="8.7">0.3</text>
<text transform="translate(618.48,370.1) scale(1,1.11)" text-anchor="middle" font-size="8.7">0.4</text>
<text transform="translate(677.2,370.1) scale(1,1.11)" text-anchor="middle" font-size="8.7">0.5</text>
<text transform="translate(380.2,360.8) scale(1,1.11)" text-anchor="end" font-size="8.7">0</text>
<text transform="translate(380.2,331.28) scale(1,1.11)" text-anchor="end" font-size="8.7">0.2</text>
<text transform="translate(380.2,301.76) scale(1,1.11)" text-anchor="end" font-size="8.7">0.4</text>
<text transform="translate(380.2,272.24) scale(1,1.11)" text-anchor="end" font-size="8.7">0.6</text>
<text transform="translate(380.2,242.72) scale(1,1.11)" text-anchor="end" font-size="8.7">0.8</text>
<text transform="translate(380.2,213.2) scale(1,1.11)" text-anchor="end" font-size="8.7">1</text>
<text transform="translate(530.4,382.5) scale(1,1.09)" text-anchor="middle" font-size="9.6">Fraction of removal nodes</text>
<text transform="translate(363.9,284) rotate(-90) scale(1,1.14)" text-anchor="middle" font-size="9.5">S</text>
<rect x="596.1" y="215.8" width="75.7" height="21.6" fill="#fff" stroke="#9c9c9c" stroke-width="0.9"/>
<line x1="598.5" y1="221.7" x2="620.2" y2="221.7" stroke="#6a6aff" stroke-width="0.9" opacity="0.7"/>
<circle cx="609.4" cy="221.7" r="2.45" fill="#0000ff"/>
<text transform="translate(622,224.6) scale(1,1.1)" font-size="7.9">Degree</text>
<line x1="598.5" y1="231.7" x2="620.2" y2="231.7" stroke="#ff6a6a" stroke-width="0.9" opacity="0.7"/>
<circle cx="609.4" cy="231.7" r="2.45" fill="#ff0000"/>
<text transform="translate(622,234.6) scale(1,1.1)" font-size="7.9">Betweenness</text>
</svg>
</body></html>
